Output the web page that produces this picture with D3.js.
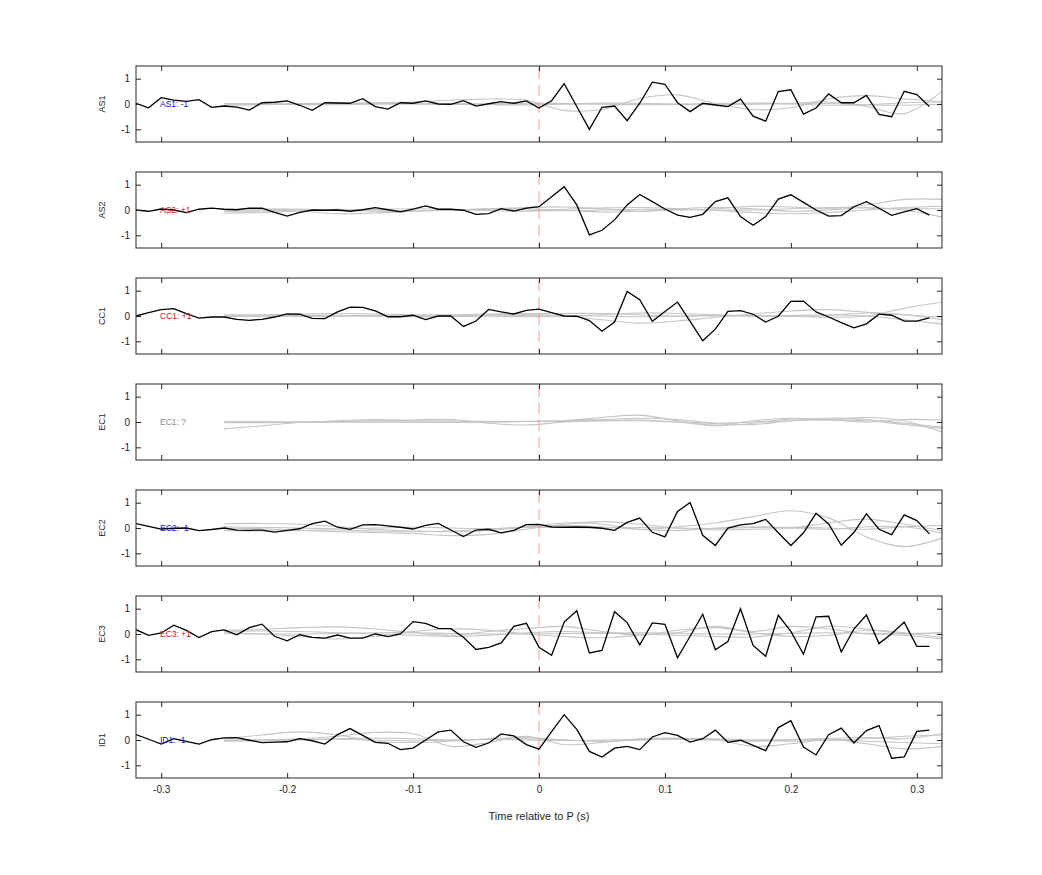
<!DOCTYPE html>
<html><head><meta charset="utf-8">
<script src="https://cdn.jsdelivr.net/npm/d3@7"></script>
<style>body{margin:0;background:#fff}svg{display:block}text{font-family:"Liberation Sans",Arial,Helvetica,sans-serif}</style>
</head><body>
<svg id="c" width="1042" height="875"></svg>
<script>
// ---------- data ----------
const stations = ["AS1","AS2","CC1","EC1","EC2","EC3","ID1"];
const polarityLabels = ["AS1: -1","AS2: +1","CC1: +1","EC1: ?","EC2: -1","EC3: +1","ID1: -1"];
const polarity = [-1, 1, 1, 0, -1, 1, -1];
const xTicks = [-0.3,-0.2,-0.1,0,0.1,0.2,0.3];
const xTickLabels = ["-0.3","-0.2","-0.1","0","0.1","0.2","0.3"];
const yTicks = [-1,0,1];
const yTickLabels = ["-1","0","1"];
const xLabel = "Time relative to P (s)";

const times = [-0.32,-0.31,-0.30,-0.29,-0.28,-0.27,-0.26,-0.25,-0.24,-0.23,-0.22,-0.21,-0.20,-0.19,-0.18,-0.17,-0.16,-0.15,-0.14,-0.13,-0.12,-0.11,-0.10,-0.09,-0.08,-0.07,-0.06,-0.05,-0.04,-0.03,-0.02,-0.01,0.00,0.01,0.02,0.03,0.04,0.05,0.06,0.07,0.08,0.09,0.10,0.11,0.12,0.13,0.14,0.15,0.16,0.17,0.18,0.19,0.20,0.21,0.22,0.23,0.24,0.25,0.26,0.27,0.28,0.29,0.30,0.31];

const traceAS1 = [0.03,-0.15,0.25,0.15,0.10,0.17,-0.13,-0.08,-0.12,-0.24,0.05,0.07,0.12,-0.05,-0.25,0.05,0.04,0.03,0.21,-0.10,-0.20,0.05,0.03,0.12,0.00,-0.01,0.13,-0.08,0.01,0.09,0.03,0.12,-0.16,0.13,0.80,-0.10,-1.00,-0.13,-0.08,-0.66,0.03,0.86,0.78,0.05,-0.30,0.03,-0.04,-0.10,0.19,-0.48,-0.68,0.49,0.56,-0.40,-0.16,0.40,0.05,0.05,0.34,-0.41,-0.50,0.50,0.37,-0.10];
const traceAS2 = [0.00,-0.05,0.04,0.00,-0.10,0.03,0.07,0.03,0.01,0.07,0.07,-0.09,-0.24,-0.09,0.00,-0.01,0.00,-0.05,0.01,0.09,0.01,-0.07,0.03,0.16,0.03,0.03,-0.01,-0.17,-0.14,0.05,-0.04,0.07,0.13,0.52,0.92,0.20,-0.98,-0.80,-0.39,0.20,0.61,0.33,0.04,-0.20,-0.29,-0.17,0.33,0.48,-0.26,-0.60,-0.26,0.43,0.60,0.30,0.00,-0.24,-0.22,0.13,0.33,0.07,-0.21,-0.07,0.05,-0.20];
const traceCC1 = [0.00,0.13,0.25,0.29,0.09,-0.08,-0.04,-0.04,-0.13,-0.17,-0.13,-0.04,0.08,0.07,-0.09,-0.10,0.16,0.35,0.34,0.20,-0.03,-0.03,0.03,-0.14,0.00,0.00,-0.41,-0.20,0.26,0.16,0.08,0.22,0.27,0.13,0.00,-0.01,-0.18,-0.60,-0.24,0.97,0.64,-0.21,0.18,0.55,-0.21,-0.98,-0.52,0.18,0.21,0.07,-0.24,-0.01,0.58,0.59,0.16,-0.04,-0.26,-0.47,-0.31,0.07,0.03,-0.20,-0.20,-0.07];
const traceEC1 = null;
const traceEC2 = [0.17,0.06,-0.04,-0.01,0.00,-0.10,-0.06,0.00,-0.08,-0.09,-0.08,-0.16,-0.09,-0.03,0.17,0.27,0.03,-0.05,0.12,0.13,0.08,0.03,-0.04,0.10,0.18,-0.08,-0.34,-0.08,-0.05,-0.19,-0.09,0.13,0.14,0.04,0.03,0.04,0.03,-0.01,-0.09,0.22,0.39,-0.17,-0.35,0.65,1.01,-0.29,-0.69,0.00,0.12,0.17,0.34,-0.19,-0.69,-0.19,0.58,0.16,-0.68,-0.18,0.56,-0.05,-0.26,0.52,0.29,-0.23];
const traceEC3 = [0.17,-0.05,0.04,0.35,0.14,-0.14,0.09,0.16,-0.03,0.25,0.39,-0.09,-0.27,-0.03,-0.13,-0.16,-0.04,-0.16,-0.16,0.00,-0.10,0.00,0.49,0.42,0.22,0.21,-0.13,-0.61,-0.53,-0.35,0.30,0.42,-0.52,-0.84,0.47,0.92,-0.75,-0.65,0.88,0.45,-0.43,0.44,0.38,-0.94,-0.09,0.78,-0.62,-0.30,1.00,-0.45,-0.88,0.74,0.10,-0.80,0.68,0.70,-0.71,0.19,0.75,-0.38,0.01,0.47,-0.49,-0.49];
const traceID1 = [0.21,0.03,-0.16,0.05,-0.05,-0.16,0.01,0.08,0.09,-0.01,-0.10,-0.08,-0.07,0.05,-0.03,-0.16,0.21,0.45,0.18,-0.09,-0.13,-0.38,-0.32,0.00,0.32,0.39,-0.07,-0.29,-0.12,0.24,0.16,-0.18,-0.36,0.33,1.00,0.42,-0.45,-0.67,-0.32,-0.25,-0.38,0.12,0.29,0.18,-0.08,0.05,0.39,-0.09,-0.01,-0.21,-0.42,0.49,0.76,-0.28,-0.59,0.21,0.47,-0.12,0.37,0.57,-0.72,-0.67,0.34,0.39];
const traces = [traceAS1, traceAS2, traceCC1, traceEC1, traceEC2, traceEC3, traceID1];

// gray (other events) traces, sampled coarsely
const grayTimes = [-0.25,-0.22,-0.19,-0.16,-0.13,-0.10,-0.07,-0.04,-0.01,0.02,0.05,0.08,0.11,0.14,0.17,0.20,0.23,0.26,0.29,0.32];
const grayAS1 = [
 [0,0,0.02,0.03,0.05,0.08,0.15,0.2,0.15,-0.25,-0.22,0.22,0.36,0.02,-0.22,-0.15,0.2,0.33,0.2,0.1],
 [0,0,0,0,0,0,0,0,0,0,0,0,0,0,0,0.02,0.08,-0.1,-0.38,0.5],
 [-0.05,-0.03,0,0.03,0.02,0,-0.02,0,0.03,0.02,0,-0.03,-0.02,0.02,0.04,0,-0.05,-0.03,0.05,0.08],
 [0.02,0,-0.02,-0.03,0,0.03,0.02,-0.02,-0.04,0,0.04,0.03,-0.02,-0.03,0,0.03,0.02,-0.03,-0.05,0]
];
const grayAS2 = [
 [-0.12,-0.1,-0.05,-0.15,-0.12,-0.05,0,0.05,0.1,0.12,0.05,-0.05,0,0.05,0.15,0.12,0.05,0.2,0.42,0.42],
 [0,0,0.03,0,-0.05,-0.03,0,0.05,0.05,0,-0.08,-0.05,0.05,0.1,0.05,-0.05,0,0.1,0,-0.28],
 [0.03,0.05,0.02,0,0.02,0.05,0.03,-0.02,-0.05,0.03,0.08,0.1,0.05,-0.02,-0.1,-0.15,-0.1,0,0.1,0.15],
 [-0.05,-0.04,0,0.03,0,-0.03,0,0.02,0,-0.03,0,0.03,0.02,0,0,0.05,0.1,0.08,0.05,0.05]
];
const grayCC1 = [
 [0,0,0.02,0.03,0,-0.03,0,0.05,0.05,0,-0.15,-0.28,-0.2,-0.05,0.08,0.2,0.25,0.15,0.05,-0.05],
 [0.05,0.05,0.08,0.1,0.08,0.05,0.05,0.08,0.1,0.1,0.1,0.05,0,0,0,0,-0.05,0,0.3,0.55],
 [0,0,0,0,0,0,0,0,-0.03,-0.02,0.05,0.12,0.1,0.05,0,0.02,0.05,0,-0.15,-0.32],
 [-0.02,-0.02,-0.02,0,0.02,0,-0.02,0,0.02,0.03,0,-0.03,0,0.03,0.02,-0.02,0.02,0.12,0.05,-0.15]
];
const grayEC1 = [
 [-0.27,-0.15,-0.02,0.05,0.1,0.05,0.05,0.02,0.02,0.05,0.18,0.27,0.05,-0.12,0.05,0.15,0.1,0.18,0.05,-0.4],
 [0.02,0.02,0,0.02,0.05,0.08,0.1,-0.05,-0.12,0,0.05,0.08,0,-0.15,-0.05,0.12,0.08,0.05,-0.1,-0.25],
 [0,0,0,0,0,0,0,0,0.02,0.02,0.05,0.05,0,-0.05,0,0.05,0.08,0,0.1,0.08],
 [-0.03,-0.03,-0.02,0,0,-0.02,-0.02,0,0.03,0.05,0.1,0.15,0.1,-0.05,-0.1,0.05,0.15,0.1,-0.05,-0.2]
];
const grayEC2 = [
 [0.17,0.18,0.15,0.05,-0.05,-0.12,-0.15,-0.1,0.05,0.2,0.15,-0.05,0.05,0.2,0.45,0.68,0.4,-0.35,-0.73,-0.4],
 [0,-0.03,-0.1,-0.15,-0.18,-0.22,-0.3,-0.25,-0.05,0.15,0.25,0.15,0,-0.08,-0.05,0,0.2,0.35,0.15,-0.1],
 [-0.1,-0.12,-0.1,-0.08,-0.12,-0.15,-0.12,-0.05,0.05,0.1,0.05,-0.05,-0.1,0,0.05,0,-0.05,0.05,0.05,-0.2],
 [0.05,0.02,0,-0.03,0,0.03,0,-0.02,0.02,0.03,0,0.02,0,-0.02,0.02,0.03,0,-0.05,0.05,0.1]
];
const grayEC3 = [
 [0.15,0.18,0.25,0.28,0.2,0.05,-0.05,0.1,0.22,0.3,0.1,-0.05,0.15,0.25,0.1,0.3,0.2,0,-0.05,-0.2],
 [0.05,0,-0.1,-0.2,-0.1,0.1,0.2,0.15,0,-0.1,-0.15,-0.05,0.05,0.3,0.05,-0.1,-0.05,0.15,0.05,-0.15],
 [0.1,0.12,0.1,0.05,0,-0.05,-0.1,-0.05,0.05,0.1,0.05,0,-0.05,-0.1,-0.12,0.05,0.3,0.2,0,0.05],
 [0.02,0,0,0.02,0.05,0.05,0.02,0,0,0.02,0.03,0.05,0.03,0,0,0.03,0.05,0.03,0.02,0.05]
];
const grayID1 = [
 [0.05,0.2,0.32,0.2,-0.05,-0.1,-0.05,0.05,0.1,0,-0.05,0,0.05,0,-0.05,0,0.05,-0.15,-0.35,-0.25],
 [0,0,0.05,0.15,0.3,0.25,-0.25,-0.1,0.15,-0.18,-0.1,0.05,0.08,0.02,-0.25,-0.15,0.05,0.1,0.05,0.25],
 [-0.05,-0.03,0,0.05,0.08,0.05,0,0.02,0.05,0,-0.05,0,0.05,0.05,0,-0.05,0,0.05,0.15,0.2],
 [-0.02,0,0.02,0.03,0,-0.03,0,0.03,0,-0.02,0,0.02,0.03,0,0,0.02,0,-0.05,-0.1,-0.15]
];
const grayTraces = [grayAS1, grayAS2, grayCC1, grayEC1, grayEC2, grayEC3, grayID1];

// ---------- layout ----------
const svg = d3.select("#c");
const left = 136, right = 942;
const panelTop0 = 66, panelStep = 106, panelH = 76;
const x = d3.scaleLinear().domain([-0.32, 0.32]).range([left, right]);
const labelColor = p => p < 0 ? "#1010d0" : (p > 0 ? "#e01010" : "#8a8a8a");

const defs = svg.append("defs");

stations.forEach((st, k) => {
  const top = panelTop0 + k * panelStep;
  const y = d3.scaleLinear().domain([-1.5, 1.5]).range([top + panelH, top]);
  const g = svg.append("g");
  const clipId = "clip" + k;
  defs.append("clipPath").attr("id", clipId).append("rect")
    .attr("x", left).attr("y", top).attr("width", right - left).attr("height", panelH);
  const plot = g.append("g").attr("clip-path", `url(#${clipId})`);

  // gray traces
  const gl = d3.line().x((d, i) => x(grayTimes[i])).y(d => y(d)).curve(d3.curveCatmullRom);
  grayTraces[k].forEach(tr => {
    plot.append("path").attr("d", gl(tr)).attr("fill", "none")
      .attr("stroke", "#c4c4c4").attr("stroke-width", 1.1);
  });

  // P arrival dashed line
  plot.append("line").attr("x1", x(0)).attr("x2", x(0)).attr("y1", top + 2).attr("y2", top + panelH)
    .attr("stroke", "#f09090").attr("stroke-width", 0.9).attr("stroke-dasharray", "11,6");

  // black trace
  if (traces[k]) {
    const bl = d3.line().x((d, i) => x(times[i])).y(d => y(d));
    plot.append("path").attr("d", bl(traces[k])).attr("fill", "none")
      .attr("stroke", "#000").attr("stroke-width", 1.3).attr("stroke-linejoin", "miter");
  }

  // polarity label
  g.append("text").attr("x", 160).attr("y", y(0) + 3).attr("font-size", 8.5)
    .attr("fill", labelColor(polarity[k])).text(polarityLabels[k]);

  // axes (ticks inward)
  const axB = d3.axisBottom(x).tickValues(xTicks).tickSizeInner(-5).tickSizeOuter(0)
    .tickFormat((d, i) => k === stations.length - 1 ? xTickLabels[i] : "");
  const axT = d3.axisTop(x).tickValues(xTicks).tickSizeInner(-5).tickSizeOuter(0).tickFormat("");
  const axL = d3.axisLeft(y).tickValues(yTicks).tickSizeInner(-5).tickSizeOuter(0)
    .tickFormat((d, i) => yTickLabels[i]);
  const axR = d3.axisRight(y).tickValues(yTicks).tickSizeInner(-5).tickSizeOuter(0).tickFormat("");
  const styleAx = sel => {
    sel.select(".domain").remove();
    sel.selectAll(".tick line").attr("stroke", "#262626");
    sel.selectAll(".tick text").attr("fill", "#262626").attr("font-size", 10)
      .attr("font-family", '"Liberation Sans",Arial,sans-serif');
  };
  g.append("g").attr("transform", `translate(0,${top + panelH})`).call(axB).call(styleAx)
    .selectAll(".tick text").attr("dy", "1.2em");
  g.append("g").attr("transform", `translate(0,${top})`).call(axT).call(styleAx);
  g.append("g").attr("transform", `translate(${left},0)`).call(axL).call(styleAx)
    .selectAll(".tick text").attr("dx", "-0.3em");
  g.append("g").attr("transform", `translate(${right},0)`).call(axR).call(styleAx);

  // box
  g.append("rect").attr("x", left).attr("y", top).attr("width", right - left).attr("height", panelH)
    .attr("fill", "none").attr("stroke", "#262626").attr("stroke-width", 1);

  // station label
  g.append("text").attr("transform", `translate(105,${y(0)}) rotate(-90)`)
    .attr("text-anchor", "middle").attr("font-size", 9).attr("fill", "#262626").text(st);
});

svg.append("text").attr("x", x(0)).attr("y", 820).attr("text-anchor", "middle")
  .attr("font-size", 11).attr("fill", "#262626").text(xLabel);
</script>
</body></html>
